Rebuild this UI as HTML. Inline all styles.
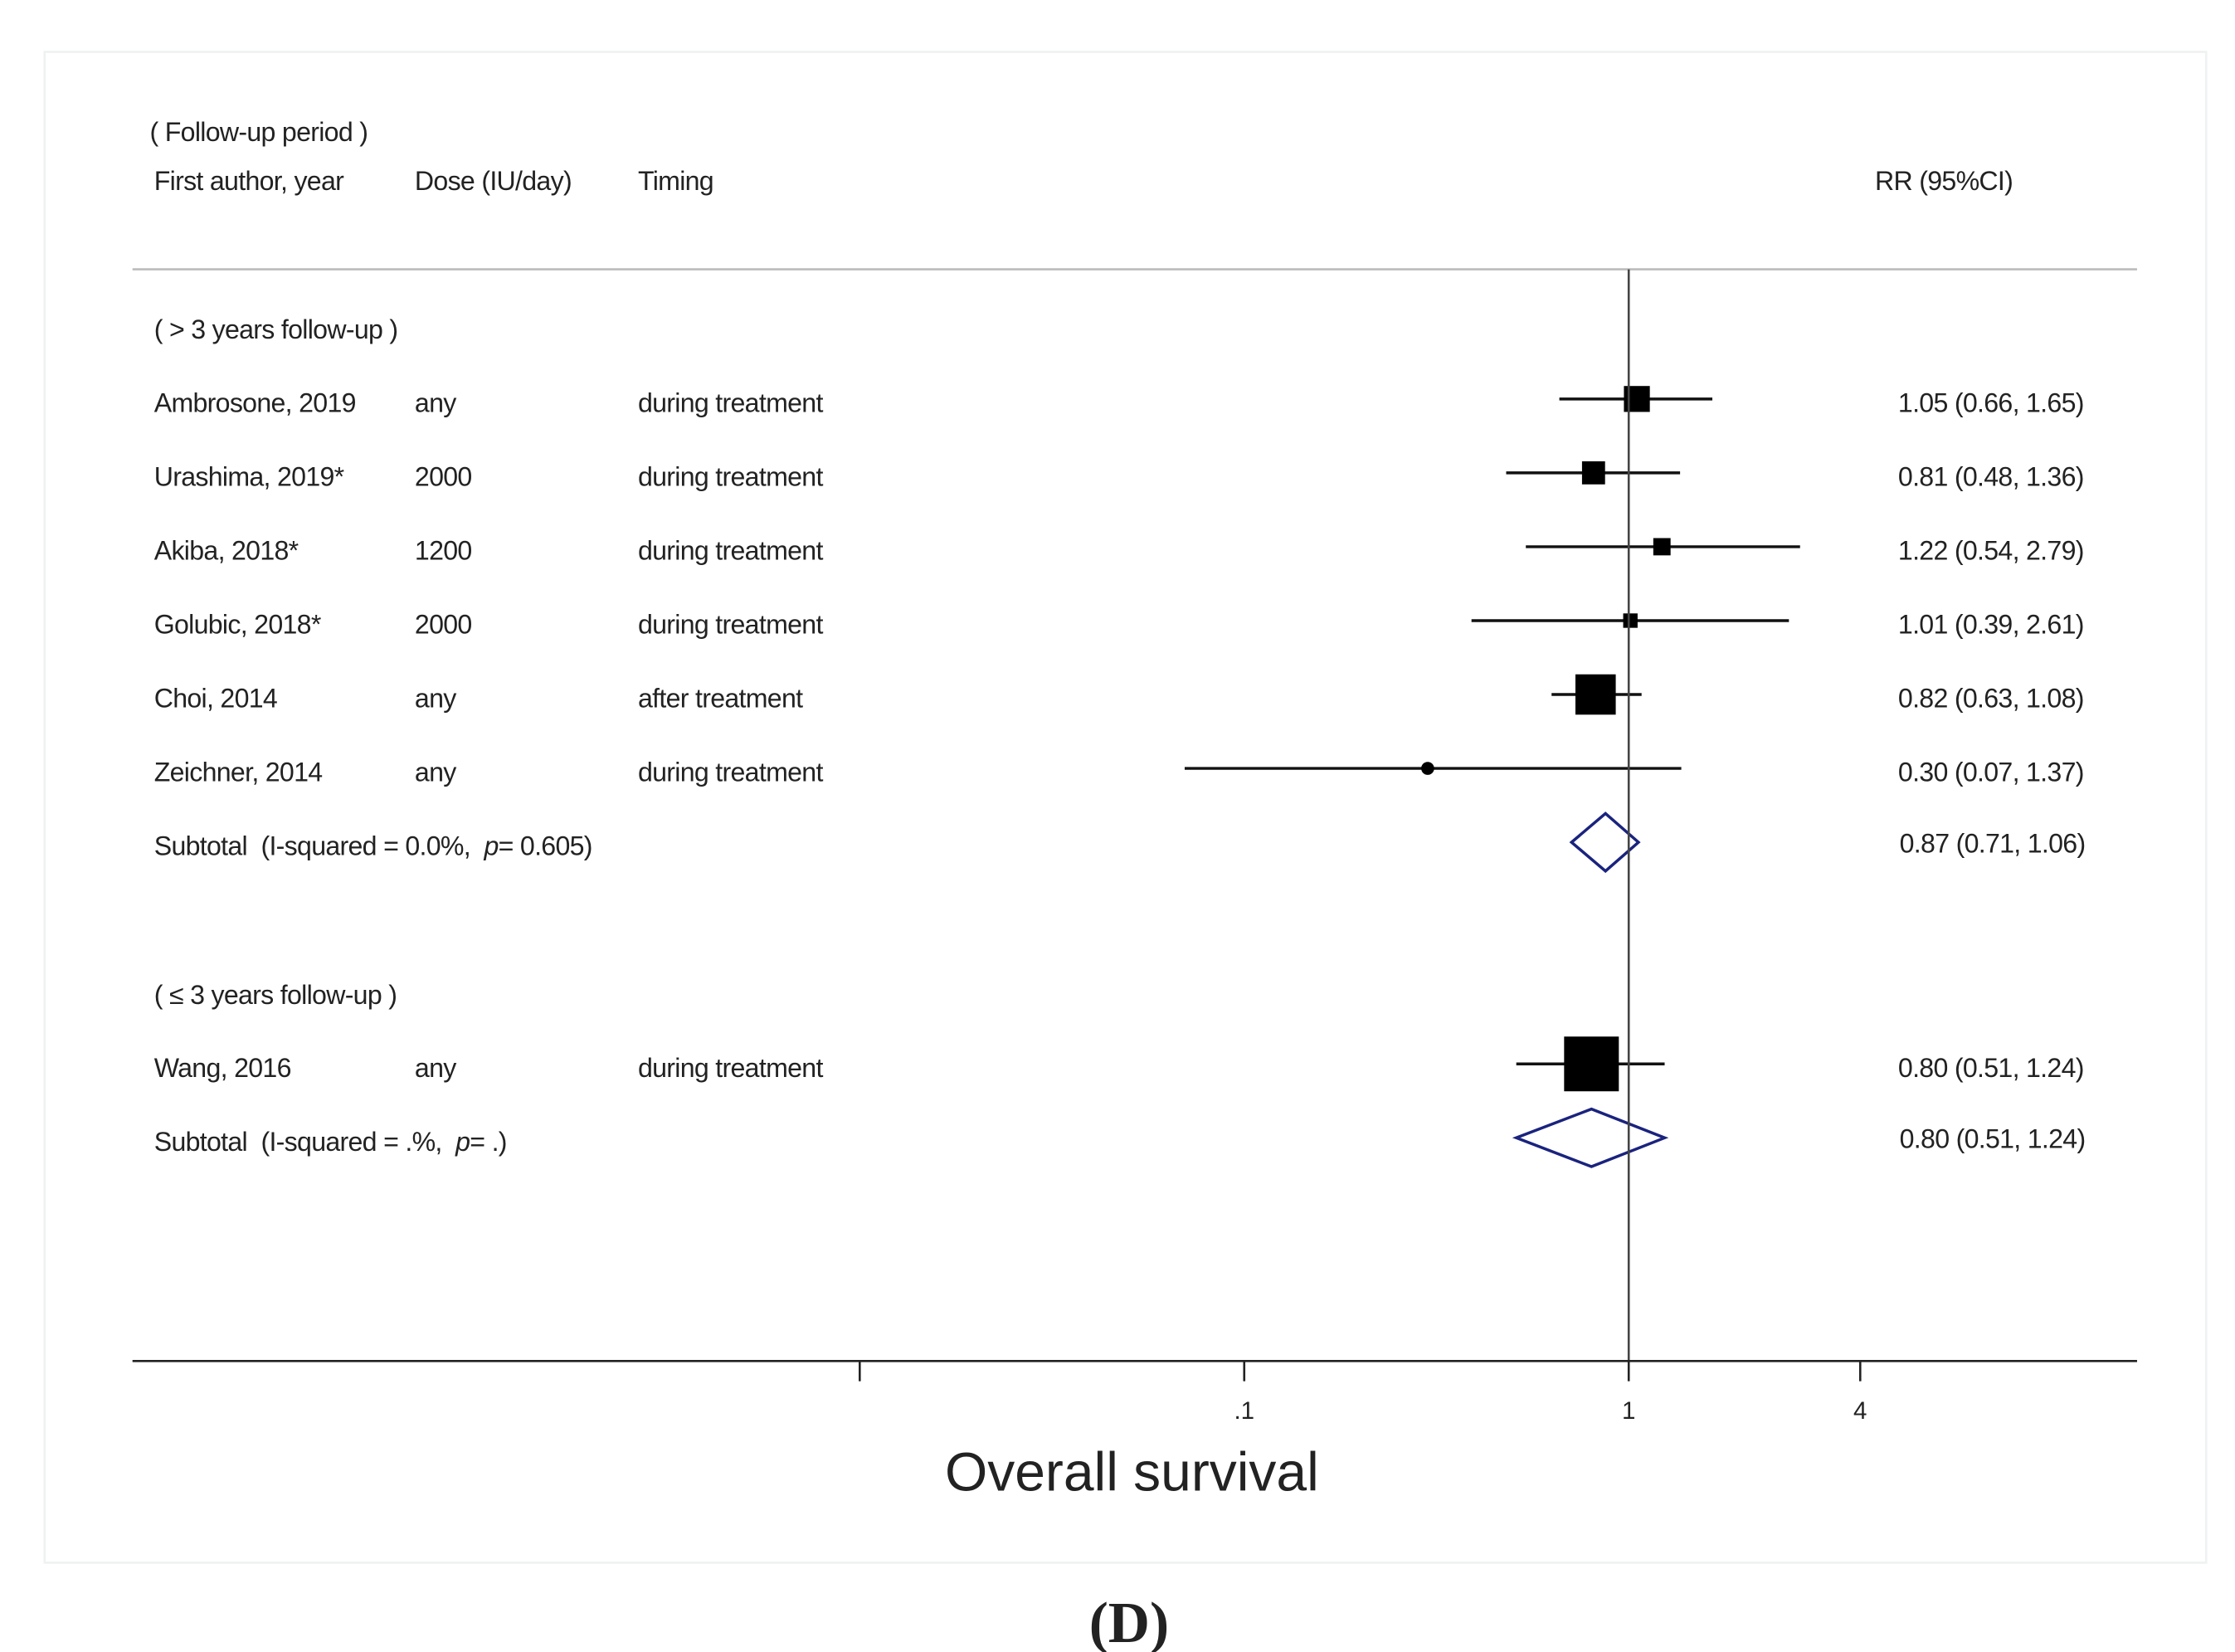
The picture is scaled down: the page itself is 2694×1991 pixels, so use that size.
<!DOCTYPE html>
<html><head><meta charset="utf-8"><style>
html,body{margin:0;padding:0;background:#fff;}
svg{display:block;}
text{font-family:"Liberation Sans",Arial,sans-serif;fill:#222;}
.t{font-size:18.5px;letter-spacing:-0.4px;white-space:pre;}
</style></head><body>
<svg id="chart" width="2694" height="1991" viewBox="0 0 1552 1147" xmlns="http://www.w3.org/2000/svg">
<rect x="31" y="36" width="1501" height="1049" fill="#fff" stroke="#eef2f2" stroke-width="1.5"/>
<text class="t" x="104" y="98">( Follow-up period )</text>
<text class="t" x="107" y="132">First author, year</text>
<text class="t" x="288" y="132">Dose (IU/day)</text>
<text class="t" x="443" y="132">Timing</text>
<text class="t" x="1302" y="132">RR (95%CI)</text>
<line x1="92" y1="187" x2="1484" y2="187" stroke="#bbb" stroke-width="1.5"/>
<text class="t" x="107" y="235">( &gt; 3 years follow-up )</text>
<text class="t" x="107" y="697">( ≤ 3 years follow-up )</text>
<g id="rows"></g>
<line x1="1131" y1="187" x2="1131" y2="945" stroke="#444" stroke-width="1.5"/>
<line x1="92" y1="945" x2="1484" y2="945" stroke="#222" stroke-width="1.5"/>
<g id="ticks"></g>
<text x="786" y="1035" text-anchor="middle" style="font-size:38px;">Overall survival</text>
<text x="784" y="1140" text-anchor="middle" style="font-family:'Liberation Serif',serif;font-weight:bold;font-size:40px;">(D)</text>
</svg>
<script>
const authors = ["Ambrosone, 2019","Urashima, 2019*","Akiba, 2018*","Golubic, 2018*","Choi, 2014","Zeichner, 2014","Wang, 2016"];
const doses = ["any","2000","1200","2000","any","any","any"];
const timings = ["during treatment","during treatment","during treatment","during treatment","after treatment","during treatment","during treatment"];
const rr = [1.05,0.81,1.22,1.01,0.82,0.30,0.80];
const lo = [0.66,0.48,0.54,0.39,0.63,0.07,0.51];
const hi = [1.65,1.36,2.79,2.61,1.08,1.37,1.24];
const weights = [9,8,6,5,14,0,19];
const rowIndex = [0,1,2,3,4,5,9];
const subPre = ["Subtotal  (I-squared = 0.0%,  ","Subtotal  (I-squared = .%,  "];
const subPost = ["= 0.605)","= .)"];
const subRR = [0.87,0.80];
const subLo = [0.71,0.51];
const subHi = [1.06,1.24];
const subRowIndex = [6,10];
const tickValues = [0.01,0.1,1,4];
const tickLabels = ["",".1","1","4"];

const NS="http://www.w3.org/2000/svg";
const xs = v => 1131 + 267*Math.log10(v);
const ys = i => 279 + i*51.3;
const fmt = v => v.toFixed(2);
const rows=document.getElementById('rows'), ticks=document.getElementById('ticks');
function mk(tag, attrs, parent, txt){const e=document.createElementNS(NS,tag);for(const k in attrs)e.setAttribute(k,attrs[k]);if(txt!==undefined)e.textContent=txt;parent.appendChild(e);return e;}

authors.forEach((a,i)=>{
  const y=ys(rowIndex[i]);
  let e=mk('text',{class:'t',x:107,y:y+7},rows,a);
  
  
  e=mk('text',{class:'t',x:288,y:y+7},rows,doses[i]);
  
  
  e=mk('text',{class:'t',x:443,y:y+7},rows,timings[i]);
  
  
  e=mk('line',{x1:xs(lo[i]),x2:xs(hi[i]),y1:y-2,y2:y-2,stroke:'#111','stroke-width':2},rows);
  
  
  const w=weights[i];
  if(w>0){e=mk('rect',{x:xs(rr[i])-w,y:y-2-w,width:2*w,height:2*w,fill:'#000'},rows);}
  else{e=mk('circle',{cx:xs(rr[i]),cy:y-2,r:4.5,fill:'#000'},rows);}
  
  
  e=mk('text',{class:'t',x:1447,y:y+7,'text-anchor':'end'},rows,fmt(rr[i])+' ('+fmt(lo[i])+', '+fmt(hi[i])+')');
  
  
});
subPre.forEach((s,i)=>{
  const y=ys(subRowIndex[i]);
  let e=mk('text',{class:'t',x:107,y:y+7},rows);
  
  
  mk('tspan',{},e,s);
  mk('tspan',{'font-style':'italic'},e,'p');
  mk('tspan',{},e,subPost[i]);
  const c=xs(subRR[i]),l=xs(subLo[i]),h=xs(subHi[i]),yy=y-2;
  e=mk('polygon',{points:`${l},${yy} ${c},${yy-20} ${h},${yy} ${c},${yy+20}`,fill:'none',stroke:'#1a237e','stroke-width':2},rows);
  
  
  e=mk('text',{class:'t',x:1448,y:y+5,'text-anchor':'end'},rows,fmt(subRR[i])+' ('+fmt(subLo[i])+', '+fmt(subHi[i])+')');
  
  
});
tickValues.forEach((v,i)=>{
  const x=xs(v);
  let e=mk('line',{x1:x,x2:x,y1:945,y2:959,stroke:'#222','stroke-width':1.5},ticks);
  
  
  e=mk('text',{x:x,y:985,'text-anchor':'middle',style:'font-size:17px'},ticks,tickLabels[i]);
  
  
});
</script>
</body></html>
